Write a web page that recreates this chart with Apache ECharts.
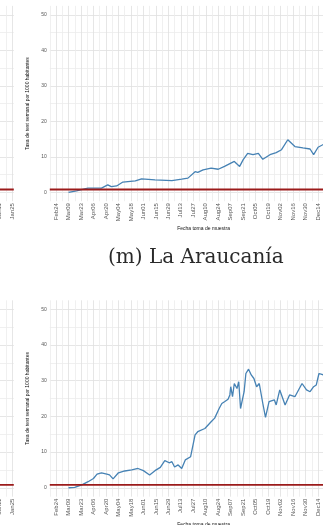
<!DOCTYPE html>
<html>
<head>
<meta charset="utf-8">
<script src="https://cdn.jsdelivr.net/npm/echarts@6/dist/echarts.min.js"></script>
<style>
  html, body { margin: 0; padding: 0; background: #ffffff; }
  #chart { width: 323px; height: 525px; }
</style>
</head>
<body>
<div id="chart"></div>
<script>
// Weekly test rate per 1000 inhabitants by sample date (2020), regional panels.

const axisStart = '2020-02-17';
const axisEnd = '2021-01-27';
const monthNames = ['Jan', 'Feb', 'Mar', 'Apr', 'May', 'Jun', 'Jul', 'Aug', 'Sep', 'Oct', 'Nov', 'Dec'];
const yTickLabels = [0, 10, 20, 30, 40, 50];
const thresholdValue = 0.8;

// Upper panel series
const upperDates = [
  '2020-03-09', '2020-03-18', '2020-03-27', '2020-03-31', '2020-04-15', '2020-04-22', '2020-04-26',
  '2020-05-02', '2020-05-09', '2020-05-23', '2020-05-30', '2020-06-14', '2020-07-03', '2020-07-14',
  '2020-07-21', '2020-07-29', '2020-08-01', '2020-08-07', '2020-08-16', '2020-08-24', '2020-08-31',
  '2020-09-11', '2020-09-17', '2020-09-21', '2020-09-26', '2020-10-02', '2020-10-08', '2020-10-13',
  '2020-10-21', '2020-10-28', '2020-11-03', '2020-11-10', '2020-11-18', '2020-11-27', '2020-12-05',
  '2020-12-09', '2020-12-14', '2020-12-20'
];
const upperValues = [
  0.0, 0.4, 1.0, 1.2, 1.2, 2.1, 1.6,
  1.8, 2.9, 3.2, 3.8, 3.5, 3.3, 3.7,
  4.0, 5.8, 5.6, 6.3, 6.8, 6.5, 7.3,
  8.7, 7.3, 9.2, 11.0, 10.6, 11.0, 9.3,
  10.6, 11.2, 12.0, 14.8, 12.9, 12.5, 12.2,
  10.6, 12.7, 13.5
];

// Lower panel series
const lowerDates = [
  '2020-03-09', '2020-03-16', '2020-03-24', '2020-03-31', '2020-04-06', '2020-04-10', '2020-04-15',
  '2020-04-21', '2020-04-24', '2020-04-28', '2020-05-04', '2020-05-11', '2020-05-19', '2020-05-26',
  '2020-06-01', '2020-06-08', '2020-06-14', '2020-06-20', '2020-06-25', '2020-06-30', '2020-07-03',
  '2020-07-06', '2020-07-10', '2020-07-14', '2020-07-18', '2020-07-24', '2020-07-29', '2020-08-01',
  '2020-08-09', '2020-08-16', '2020-08-20', '2020-08-25', '2020-08-28', '2020-08-31', '2020-09-04',
  '2020-09-06', '2020-09-07', '2020-09-09', '2020-09-11', '2020-09-14', '2020-09-16', '2020-09-18',
  '2020-09-22', '2020-09-24', '2020-09-27', '2020-09-30', '2020-10-03', '2020-10-06', '2020-10-09',
  '2020-10-13', '2020-10-16', '2020-10-20', '2020-10-26', '2020-10-28', '2020-11-01', '2020-11-03',
  '2020-11-07', '2020-11-12', '2020-11-18', '2020-11-26', '2020-12-01', '2020-12-05', '2020-12-09',
  '2020-12-12', '2020-12-15', '2020-12-20'
];
const lowerValues = [
  0.0, 0.1, 0.8, 1.7, 2.6, 3.8, 4.2,
  3.8, 3.6, 2.5, 4.2, 4.7, 5.0, 5.4,
  4.8, 3.6, 4.8, 5.7, 7.6, 7.0, 7.3,
  5.8, 6.4, 5.4, 7.8, 8.7, 14.8, 15.7,
  16.6, 18.5, 19.5, 22.2, 23.6, 24.1, 24.8,
  26.0, 28.3, 25.5, 29.2, 27.8, 29.7, 22.2,
  26.9, 32.0, 33.2, 31.6, 30.6, 28.3, 29.2,
  23.6, 19.7, 24.1, 24.6, 23.2, 27.4, 26.9,
  23.2, 26.0, 25.5, 29.2, 27.4, 26.9, 28.3,
  28.8, 32.0, 31.6
];

// Daily category axis
function isoDay(t) {
  const d = new Date(t);
  const m = String(d.getUTCMonth() + 1).padStart(2, '0');
  const dd = String(d.getUTCDate()).padStart(2, '0');
  return d.getUTCFullYear() + '-' + m + '-' + dd;
}
const dayCategories = [];
for (let t = Date.parse(axisStart + 'T00:00:00Z'); t <= Date.parse(axisEnd + 'T00:00:00Z'); t += 86400000) {
  dayCategories.push(isoDay(t));
}
function shortLabel(v) {
  const parts = v.split('-');
  return monthNames[Number(parts[1]) - 1] + parts[2];
}

const zip = (xs, ys) => xs.map((x, i) => [x, ys[i]]);

// Panel geometry
const plotWidth = 307.5;
const rightLeft = 49.8;
const leftLeft = 13.8 - plotWidth;
const upperTop = 5.9, upperHeight = 195.3;
const lowerTop = 300.3, lowerHeight = 196.4;

const panels = [
  { left: leftLeft, top: upperTop, height: upperHeight, values: null },
  { left: rightLeft, top: upperTop, height: upperHeight, values: zip(upperDates, upperValues) },
  { left: leftLeft, top: lowerTop, height: lowerHeight, values: null },
  { left: rightLeft, top: lowerTop, height: lowerHeight, values: zip(lowerDates, lowerValues) }
];

const grids = [], xAxes = [], yAxes = [], series = [];
panels.forEach((p, i) => {
  grids.push({ left: p.left, top: p.top, width: plotWidth, height: p.height, containLabel: false, outerBoundsMode: 'none' });
  xAxes.push({
    type: 'category', gridIndex: i, data: dayCategories, boundaryGap: false,
    name: 'Fecha toma de muestra', nameLocation: 'middle', nameGap: 25,
    nameTextStyle: { fontFamily: 'Liberation Sans', fontSize: 5, color: '#111' },
    axisLine: { show: false }, axisTick: { show: false },
    axisLabel: {
      interval: (idx) => idx >= 7 && (idx - 7) % 14 === 0,
      formatter: shortLabel, rotate: 90, margin: 2,
      fontFamily: 'Liberation Sans', fontSize: 6, color: '#555'
    },
    splitLine: {
      show: true, interval: (idx) => idx % 7 === 0,
      lineStyle: { color: ['#ececec', '#dfdfdf'], width: 0.8 }
    }
  });
  yAxes.push({
    type: 'value', gridIndex: i, min: -2.5, max: 52.5, splitNumber: 11,
    name: 'Tasa de test semanal por 1000 habitantes', nameLocation: 'middle', nameGap: 13, nameRotate: 90,
    nameTextStyle: { fontFamily: 'Liberation Sans', fontSize: 5, color: '#111' },
    axisLine: { show: false }, axisTick: { show: false },
    axisLabel: {
      showMinLabel: false, showMaxLabel: false, margin: 3,
      formatter: (v) => (yTickLabels.indexOf(v) >= 0 ? String(v) : ''),
      fontFamily: 'Liberation Sans', fontSize: 5, color: '#555'
    },
    splitLine: {
      show: true, showMinLine: false, showMaxLine: false,
      lineStyle: { color: ['#dfdfdf', '#ececec'], width: 0.8 }
    }
  });
  if (p.values) {
    series.push({
      type: 'line', xAxisIndex: i, yAxisIndex: i, data: p.values,
      showSymbol: false, smooth: false, z: 3,
      lineStyle: { color: '#4682b4', width: 1.3 }
    });
  }
  series.push({
    type: 'line', xAxisIndex: i, yAxisIndex: i,
    data: [[axisStart, thresholdValue], [axisEnd, thresholdValue]],
    showSymbol: false, silent: true, z: 4,
    lineStyle: { color: '#9b1b1b', width: 1.8 }
  });
});

const chart = echarts.init(document.getElementById('chart'), null, { renderer: 'canvas' });
chart.setOption({
  animation: false,
  backgroundColor: '#ffffff',
  grid: grids,
  xAxis: xAxes,
  yAxis: yAxes,
  series: series,
  graphic: [{
    type: 'text', left: 108, top: 248,
    style: { text: '(m) La Araucanía', fontFamily: 'DejaVu Serif', fontSize: 20, fill: '#2a2a2a' }
  }]
});
</script>
</body>
</html>
